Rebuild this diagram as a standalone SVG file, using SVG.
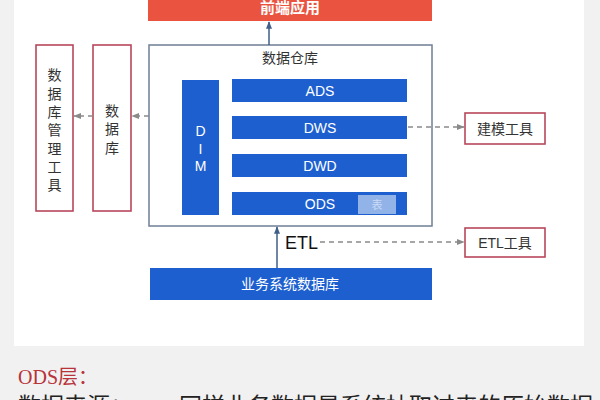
<svg xmlns="http://www.w3.org/2000/svg" width="600" height="400" viewBox="0 0 600 400">
<defs>
<style>
.cjk{font-family:"Liberation Sans","Noto Sans CJK SC",sans-serif}
.blue{fill:#1d5fcf}
.wt{fill:#ffffff;font-size:14px;text-anchor:middle}
.tool{fill:#ffffff;stroke:#b8475a;stroke-width:1.6}
.tt{fill:#333333;font-size:14px;text-anchor:middle}
.dash{stroke:#8a8a8a;stroke-width:1.3;stroke-dasharray:5 4;fill:none}
.solid{stroke:#3f5f86;stroke-width:1.5;fill:none}
</style>
<marker id="ah" viewBox="0 0 10 10" refX="9" refY="5" markerWidth="6" markerHeight="6" orient="auto-start-reverse">
<path d="M0,1 L10,5 L0,9 z" fill="#8a8a8a"/>
</marker>
<marker id="ab" viewBox="0 0 10 10" refX="9" refY="5" markerWidth="5" markerHeight="5" orient="auto-start-reverse">
<path d="M0,1 L10,5 L0,9 z" fill="#3f5f86"/>
</marker>
</defs>
<rect x="0" y="0" width="600" height="400" fill="#f1f1f1"/>
<rect x="14" y="0" width="570" height="346" fill="#ffffff"/>

<g id="frontend">
<rect x="148" y="-2" width="284" height="23" fill="#e9533f"/>
<text x="290" y="13" class="cjk" fill="#ffffff" font-size="15" font-weight="bold" text-anchor="middle">前端应用</text>
</g>

<g id="warehouse">
<rect x="149" y="45" width="283" height="181" fill="#ffffff" stroke="#6f7f95" stroke-width="1.5"/>
<text x="290" y="63" class="cjk" fill="#333" font-size="14" text-anchor="middle">数据仓库</text>
</g>

<g id="dim">
<rect x="182" y="80" width="37" height="135" class="blue"/>
<text class="cjk wt" font-size="15"><tspan x="200.5" y="136">D</tspan><tspan x="200.5" y="154">I</tspan><tspan x="200.5" y="171">M</tspan></text>
</g>
<g id="ads">
<rect x="232" y="79" width="175" height="23" class="blue"/>
<text x="320" y="96" class="cjk wt">ADS</text>
</g>
<g id="dws">
<rect x="232" y="116" width="175" height="23" class="blue"/>
<text x="320" y="133" class="cjk wt">DWS</text>
</g>
<g id="dwd">
<rect x="232" y="154" width="175" height="23" class="blue"/>
<text x="320" y="171" class="cjk wt">DWD</text>
</g>
<g id="ods">
<rect x="232" y="192" width="175" height="23" class="blue"/>
<text x="320" y="209" class="cjk wt">ODS</text>
<rect x="358" y="195" width="38" height="19" fill="#92b3e8"/>
<text x="377" y="209" class="cjk" fill="#c9d9f4" font-size="11" text-anchor="middle">表</text>
</g>

<g id="dbtool">
<rect x="36" y="45" width="37" height="166" class="tool"/>
<text class="cjk tt" font-size="15"><tspan x="54.5" y="80">数</tspan><tspan x="54.5" y="99">据</tspan><tspan x="54.5" y="117">库</tspan><tspan x="54.5" y="135">管</tspan><tspan x="54.5" y="154">理</tspan><tspan x="54.5" y="172">工</tspan><tspan x="54.5" y="190">具</tspan></text>
</g>
<g id="db">
<rect x="93" y="45" width="38" height="166" class="tool"/>
<text class="cjk tt" font-size="15"><tspan x="112" y="116">数</tspan><tspan x="112" y="134">据</tspan><tspan x="112" y="153">库</tspan></text>
</g>
<g id="modeltool">
<rect x="465" y="113" width="80" height="31" class="tool"/>
<text x="505" y="134" class="cjk tt">建模工具</text>
</g>
<g id="etltool">
<rect x="465" y="228" width="80" height="29" class="tool"/>
<text x="505" y="248" class="cjk tt" font-size="13">ETL工具</text>
</g>
<g id="bizdb">
<rect x="150" y="268" width="282" height="32" class="blue"/>
<text x="290" y="289" class="cjk wt">业务系统数据库</text>
</g>

<g id="connectors">
<line x1="269" y1="45" x2="269" y2="22" class="solid" marker-end="url(#ab)"/>
<line x1="277" y1="268" x2="277" y2="227" class="solid" marker-end="url(#ab)"/>
<line x1="149" y1="116" x2="132" y2="116" class="dash" marker-end="url(#ah)"/>
<line x1="93" y1="116" x2="74" y2="116" class="dash" marker-end="url(#ah)"/>
<line x1="408" y1="127" x2="464" y2="127" class="dash" marker-end="url(#ah)"/>
<line x1="320" y1="242" x2="464" y2="242" class="dash" marker-end="url(#ah)"/>
</g>
<text x="285" y="249" font-family="Liberation Sans,sans-serif" font-size="18" fill="#111">ETL</text>

<text x="18" y="384" font-family="'Liberation Serif','Noto Sans CJK SC',serif" font-size="20" fill="#b8333a">ODS层：</text>
<text x="18" y="414" font-family="'Liberation Serif','Noto Sans CJK SC',serif" font-size="23" fill="#222">数据来源：……同样业务数据是系统抽取过来的原始数据</text>
</svg>
